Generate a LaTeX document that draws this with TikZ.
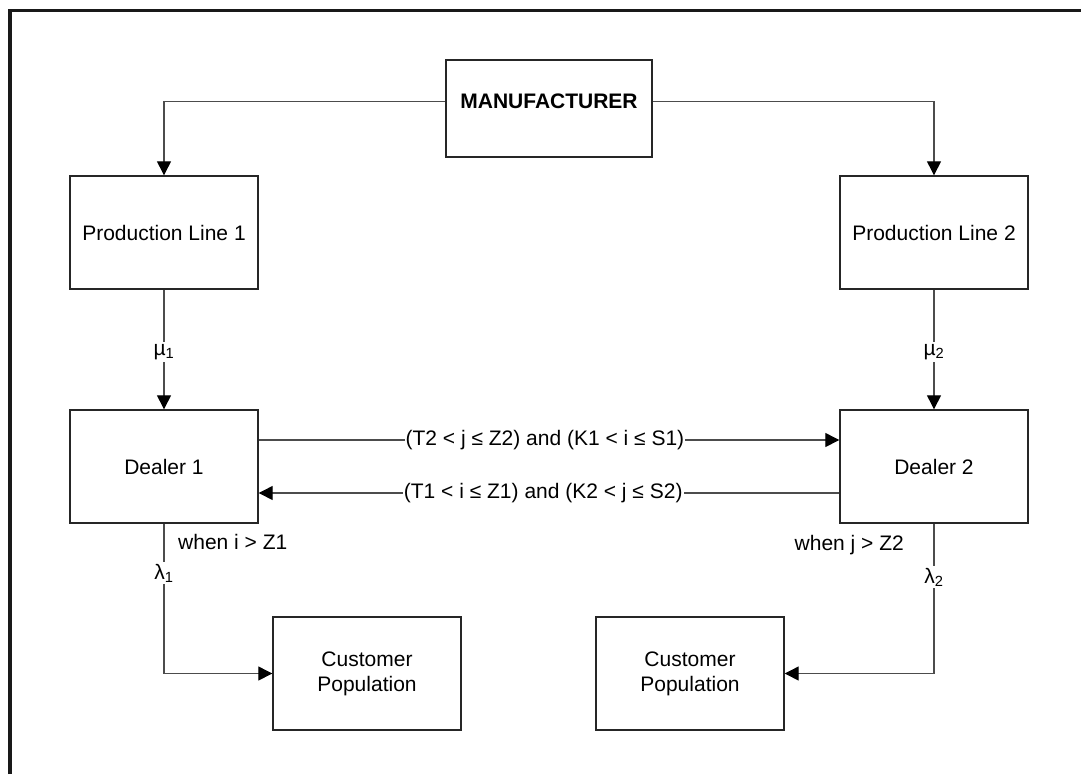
\documentclass[tikz,border=0pt]{standalone}
\usepackage{fontspec}
\setmainfont{Liberation Sans}
\usetikzlibrary{arrows.meta,calc}

\begin{document}
\begin{tikzpicture}[x=1pt,y=-1pt,
  every node/.style={font=\fontsize{21}{25}\selectfont},
  blockbox/.style={draw=black!85, line width=1.4pt, minimum width=188pt, minimum height=113pt, inner sep=0pt, align=center},
  link/.style={draw=black!70, line width=1.3pt},
  arrowlink/.style={link, -{Triangle[length=14pt,width=14pt,color=black]}},
  onwire/.style={fill=white, inner sep=2pt},
  condition/.style={fill=white, inner sep=1pt},
  tag/.style={inner sep=0pt}
]
\useasboundingbox (0,0) rectangle (1081,774);

% outer frame (left and top edges)
\draw[line width=3.3pt, black!90] (10,774) -- (10,10.8) -- (1081,10.8);

% blocks
\node[blockbox, minimum width=206pt, minimum height=97pt] (man) at (549,108.5) {};
\node[anchor=base] (manlabel) at (man.center) {\bfseries MANUFACTURER};

\node[blockbox] (pl1) at (164,232.5) {Production Line 1};
\node[blockbox] (pl2) at (934,232.5) {Production Line 2};
\node[blockbox] (d1) at (164,466.5) {Dealer 1};
\node[blockbox] (d2) at (934,466.5) {Dealer 2};
\node[blockbox] (cp1) at (367,673.5) {Customer\\Population};
\node[blockbox] (cp2) at (690,673.5) {Customer\\Population};

% manufacturer to production lines
\draw[arrowlink] (manlabel.center -| man.west) -| (pl1.north);
\draw[arrowlink] (manlabel.center -| man.east) -| (pl2.north);

% production lines to dealers
\draw[arrowlink] (pl1.south) -- node[onwire, pos=0.52] (mu1) {µ\textsubscript{1}} (d1.north);
\draw[arrowlink] (pl2.south) -- node[onwire, pos=0.52] (mu2) {µ\textsubscript{2}} (d2.north);

% transfers between dealers
\coordinate (d1a) at ($(d1.east)+(0,-26.5)$);
\coordinate (d1b) at ($(d1.east)+(0,26.5)$);
\draw[arrowlink] (d1a) -- node[condition, pos=0.493] (t12) {(T2 < j ≤ Z2) and (K1 < i ≤ S1)} (d1a -| d2.west);
\draw[arrowlink] (d1b -| d2.west) -- node[condition, pos=0.51] (t21) {(T1 < i ≤ Z1) and (K2 < j ≤ S2)} (d1b);

% dealers to customer populations
\draw[arrowlink] (d1.south) |- node[onwire, pos=0.165] (lam1) {λ\textsubscript{1}} (cp1.west);
\draw[arrowlink] (d2.south) |- node[onwire, pos=0.178] (lam2) {λ\textsubscript{2}} (cp2.east);

\node[tag, anchor=west] (w1) at (178,542) {when i > Z1};
\node[tag, anchor=east] (w2) at (904,545) {when j > Z2};
\end{tikzpicture}
\end{document}
